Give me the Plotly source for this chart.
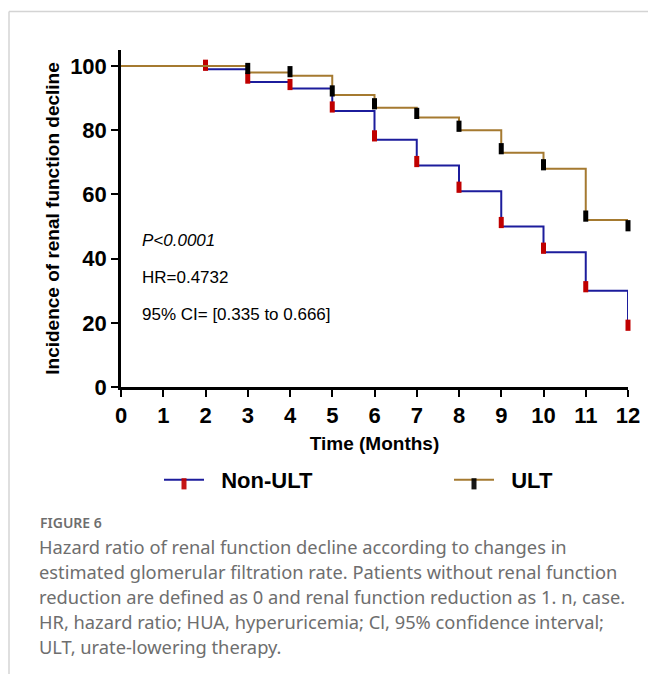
import plotly.graph_objects as go
import numpy as np

# ---------------- data ----------------
months = list(range(0, 13))
nonult_times = [0, 2, 3, 4, 5, 6, 7, 8, 9, 10, 11, 12]
nonult_vals = [100, 99, 95, 93, 86, 77, 69, 61, 50, 42, 30, 18]
ult_times = [0, 3, 4, 5, 6, 7, 8, 9, 10, 11, 12]
ult_vals = [100, 98, 97, 91, 87, 84, 80, 73, 68, 52, 49]
y_ticks = [0, 20, 40, 60, 80, 100]
series_names = ["Non-ULT", "ULT"]
stats_text = ["<i>P<0.0001</i>", "HR=0.4732", "95% CI= [0.335 to 0.666]"]
caption_title = "FIGURE 6"
caption_lines = [
    "Hazard ratio of renal function decline according to changes in",
    "estimated glomerular filtration rate. Patients without renal function",
    "reduction are defined as 0 and renal function reduction as 1. n, case.",
    "HR, hazard ratio; HUA, hyperuricemia; Cl, 95% confidence interval;",
    "ULT, urate-lowering therapy.",
]

W, H = 648, 674
L, R, T, B = 121, 20, 50, 287
PW, PH = W - L - R, H - T - B


def px(xp):
    return (xp - L) / PW


def py(yp):
    return (H - B - yp) / PH


AX_FONT = "Liberation Sans, Arial, sans-serif"
CAP_FONT = "Noto Sans, sans-serif"

fig = go.Figure()


def km_trace(times, vals, name, line_color, mark_color, legend):
    op = [0] + [1] * (len(times) - 1)
    return go.Scatter(
        x=times, y=vals, name="\u00a0\u00a0" + name, mode="lines+markers",
        line=dict(color=line_color, width=2, shape="hv"),
        marker=dict(symbol="line-ns-open", size=8, opacity=op, color=mark_color,
                    standoff=4, angle=180,
                    line=dict(width=5, color=mark_color)),
        cliponaxis=False, legend=legend,
    )


fig.add_trace(km_trace(nonult_times, nonult_vals, series_names[0], "#1c1c9c", "#c00000", "legend"))
fig.add_trace(km_trace(ult_times, ult_vals, series_names[1], "#a57a30", "#000000", "legend2"))

for i, t in enumerate(stats_text):
    fig.add_annotation(x=0.45, y=[45.5, 34, 22.5][i], xref="x", yref="y",
                       text=t, showarrow=False, xanchor="left", yanchor="middle",
                       font=dict(family=AX_FONT, size=17, color="#000"))

fig.add_annotation(x=px(38), y=py(522), xref="paper", yref="paper",
                   text=caption_title, showarrow=False, xanchor="left", yanchor="middle",
                   font=dict(family=CAP_FONT, size=14, color="#6e6e6e", weight=600))
for i, line in enumerate(caption_lines):
    fig.add_annotation(x=px(37), y=py(546 + 25 * i), xref="paper", yref="paper",
                       text=line, showarrow=False, xanchor="left", yanchor="middle",
                       font=dict(family=CAP_FONT, size=18.3, color="#6e6e6e"))

# page frame lines
fig.add_shape(type="line", xref="paper", yref="paper", x0=px(9), x1=px(648),
              y0=py(11.5), y1=py(11.5), line=dict(color="#d4d4d4", width=1.5))
fig.add_shape(type="line", xref="paper", yref="paper", x0=px(9), x1=px(9),
              y0=py(11.5), y1=py(674), line=dict(color="#d4d4d4", width=1.5))

fig.update_xaxes(
    range=[0, 12], tickvals=months, ticktext=[str(m) for m in months],
    showline=True, linecolor="#000", linewidth=2.5, ticks="outside", ticklen=7,
    tickwidth=2, tickcolor="#000", showgrid=False, zeroline=False,
    tickfont=dict(family=AX_FONT, size=22, color="#000", weight="bold"),
    title=dict(text="<b>Time (Months)</b>", standoff=10,
               font=dict(family=AX_FONT, size=19, color="#000")),
)
fig.update_yaxes(
    range=[0, 105], tickvals=y_ticks, ticktext=[str(v) for v in y_ticks],
    showline=True, linecolor="#000", linewidth=2.5, ticks="outside", ticklen=7,
    tickwidth=2, tickcolor="#000", showgrid=False, zeroline=False,
    tickfont=dict(family=AX_FONT, size=22, color="#000", weight="bold"),
    title=dict(text="<b>Incidence of renal function decline</b>", standoff=6,
               font=dict(family=AX_FONT, size=19, color="#000")),
)

leg_common = dict(orientation="h", yanchor="middle", xanchor="left",
                  font=dict(family=AX_FONT, size=22, color="#000", weight="bold"),
                  itemwidth=40, bgcolor="rgba(0,0,0,0)")

fig.update_layout(
    width=W, height=H, margin=dict(l=L, r=R, t=T, b=B, autoexpand=False),
    paper_bgcolor="white", plot_bgcolor="white",
    showlegend=True,
    legend=dict(x=px(159), y=py(480), **leg_common),
    legend2=dict(x=px(449), y=py(480), **leg_common),
)

fig.write_html("out.html", config={"displayModeBar": False},
               post_script="document.body.style.margin='0';")
